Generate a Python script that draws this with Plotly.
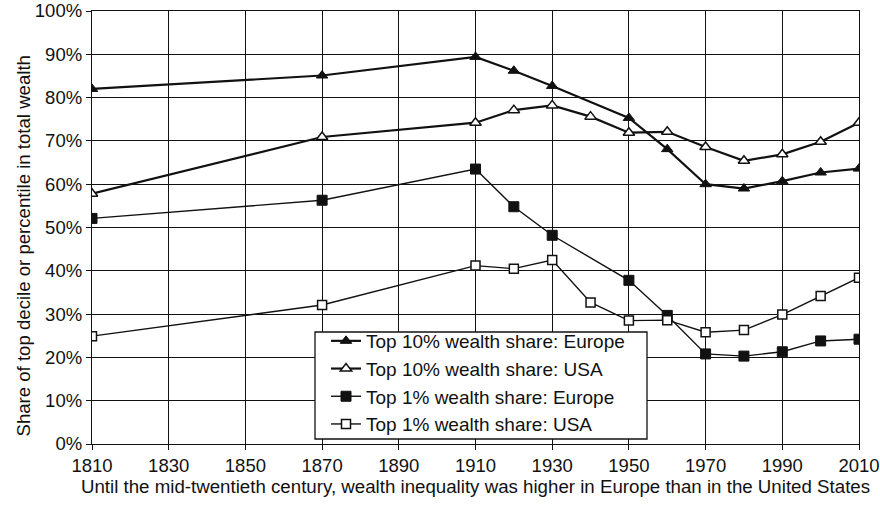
import plotly.graph_objects as go

years = [1810, 1870, 1910, 1920, 1930, 1940, 1950, 1960, 1970, 1980, 1990, 2000, 2010]
years_eu = [1810, 1870, 1910, 1920, 1930, 1950, 1960, 1970, 1980, 1990, 2000, 2010]

top10_europe = [82.0, 85.1, 89.4, 86.2, 82.7, 75.3, 68.1, 60.0, 59.0, 60.7, 62.7, 63.6]
top10_usa = [57.8, 70.9, 74.2, 77.1, 78.2, 75.6, 71.9, 72.1, 68.6, 65.4, 66.9, 69.8, 74.2]
top1_europe = [52.1, 56.3, 63.5, 54.8, 48.2, 37.8, 29.7, 20.8, 20.3, 21.3, 23.8, 24.2]
top1_usa = [24.9, 32.1, 41.2, 40.5, 42.5, 32.7, 28.5, 28.6, 25.8, 26.3, 29.9, 34.2, 38.4]

x_ticks = [1810, 1830, 1850, 1870, 1890, 1910, 1930, 1950, 1970, 1990, 2010]
y_ticks = [0, 10, 20, 30, 40, 50, 60, 70, 80, 90, 100]

FONT = "Liberation Sans, Arial, sans-serif"
INK = "#111111"

# plot-area geometry in pixels
W, H = 880, 505
L, R, T, B = 92, 21, 11, 61
PW, PH = W - L - R, H - T - B


def px_x(p):
    return (p - L) / PW


def px_y(p):
    return (H - B - p) / PH


fig = go.Figure()

fig.add_trace(go.Scatter(
    x=years_eu, y=top10_europe, mode="lines+markers",
    name="Top 10% wealth share: Europe",
    line=dict(color=INK, width=2.2),
    marker=dict(symbol="triangle-up", size=10, color=INK, line=dict(color=INK, width=1)),
    legendgroup="a",
))
fig.add_trace(go.Scatter(
    x=years, y=top10_usa, mode="lines+markers",
    name="Top 10% wealth share: USA",
    line=dict(color=INK, width=2.2),
    marker=dict(symbol="triangle-up", size=10, color="white", line=dict(color=INK, width=1.5)),
    legendgroup="b",
))
fig.add_trace(go.Scatter(
    x=years_eu, y=top1_europe, mode="lines+markers",
    name="Top 1% wealth share: Europe",
    line=dict(color=INK, width=1.4),
    marker=dict(symbol="square", size=10, color=INK, line=dict(color=INK, width=1)),
    legendgroup="c",
))
fig.add_trace(go.Scatter(
    x=years, y=top1_usa, mode="lines+markers",
    name="Top 1% wealth share: USA",
    line=dict(color=INK, width=1.4),
    marker=dict(symbol="square", size=9, color="white", line=dict(color=INK, width=1.5)),
    legendgroup="d",
))

fig.update_layout(
    width=W, height=H,
    margin=dict(l=L, r=R, t=T, b=B),
    paper_bgcolor="white", plot_bgcolor="white",
    font=dict(family=FONT, size=18, color=INK),
    legend=dict(
        x=px_x(326), y=px_y(322), xanchor="left", yanchor="top",
        bgcolor="rgba(0,0,0,0)", borderwidth=0,
        font=dict(family=FONT, size=19, color=INK),
        traceorder="grouped", tracegroupgap=0,
    ),
    showlegend=True,
    shapes=[dict(
        type="rect", xref="paper", yref="paper",
        x0=px_x(315), x1=px_x(647), y0=px_y(439), y1=px_y(332),
        fillcolor="white", line=dict(color=INK, width=1.3), layer="above",
    )],
    annotations=[dict(
        text="Share of top decile or percentile in total wealth",
        xref="paper", yref="paper", x=px_x(23), y=px_y(246.5),
        xanchor="center", yanchor="middle", textangle=-90, showarrow=False,
        font=dict(family=FONT, size=18.6, color=INK),
    )],
)

fig.update_xaxes(
    range=[1810, 2010], tickvals=x_ticks, ticktext=[str(v) for v in x_ticks],
    showgrid=True, gridcolor=INK, gridwidth=1.3,
    showline=True, linecolor=INK, linewidth=1.3, mirror=True,
    ticks="outside", ticklen=5, tickcolor=INK, tickwidth=1.3,
    tickfont=dict(family=FONT, size=18.5, color=INK),
    title=dict(text="Until the mid-twentieth century, wealth inequality was higher in Europe than in the United States",
               font=dict(family=FONT, size=18.7, color=INK), standoff=2),
    zeroline=False, automargin=False,
)
fig.update_yaxes(
    range=[0, 100], tickvals=y_ticks, ticktext=[f"{v}%" for v in y_ticks],
    showgrid=True, gridcolor=INK, gridwidth=1.3,
    showline=True, linecolor=INK, linewidth=1.3, mirror=True,
    ticks="outside", ticklen=5, tickcolor=INK, tickwidth=1.3,
    tickfont=dict(family=FONT, size=18.5, color=INK),
    zeroline=False, automargin=False,
)

fig.write_html("out.html", config={"displayModeBar": False},
               post_script="document.body.style.margin='0';")
